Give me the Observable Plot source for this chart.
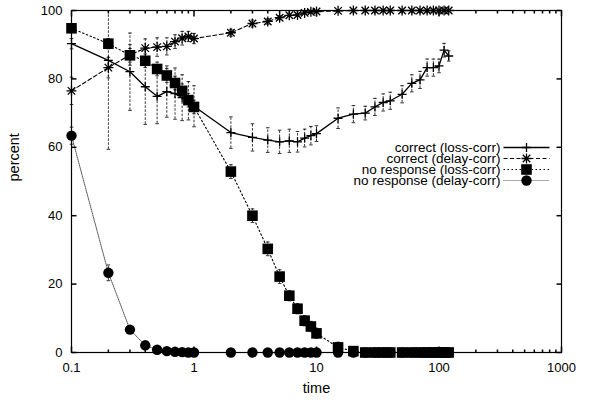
<!DOCTYPE html>
<html>
<head>
<meta charset="utf-8">
<script src="https://cdn.jsdelivr.net/npm/d3@7"></script>
<script src="https://cdn.jsdelivr.net/npm/@observablehq/plot@0.6"></script>
<style>
  html, body { margin: 0; padding: 0; background: #fff; }
  #chart { width: 589px; height: 401px; }
</style>
</head>
<body>
<div id="chart"></div>
<script>
// ---- data ----
const times = [0.1, 0.2, 0.3, 0.4, 0.5, 0.6, 0.7, 0.8, 0.9, 1,
  2, 3, 4, 5, 6, 7, 8, 9, 10,
  15, 20, 25, 30, 35, 40, 50, 60, 70, 80, 90, 100, 110, 120];

const correctLoss = [90.3, 85.4, 82.1, 77.7, 74.9, 76.3, 75.7, 74.5, 73.6, 72.0,
  64.3, 62.9, 62.1, 61.6, 61.9, 61.6, 62.7, 63.4, 64.0,
  68.5, 69.7, 70.0, 71.8, 73.1, 73.6, 75.5, 78.7, 79.7, 83.3, 83.3, 83.8, 88.4, 86.7];
const correctLossErr = [1.5, 26, 11.3, 11, 8, 7.5, 7.5, 6.7, 5.6, 6,
  4.6, 4, 3.6, 3.4, 3.4, 3, 2.6, 2.7, 2.3,
  3, 2.5, 2, 2.5, 2.5, 2.5, 2.5, 2.5, 2.5, 2.5, 2.5, 2, 2, 1.5];

const correctDelay = [76.5, 83.3, 87.0, 89.0, 89.3, 89.5, 90.9, 91.9, 92.4, 91.8,
  93.5, 96.2, 96.8, 97.9, 98.6, 98.7, 99.3, 99.6, 99.7,
  99.9, 100, 100, 100, 100, 100, 100, 100, 100, 100, 100, 100, 100, 100];
const correctDelayErr = [4, 3, 3, 2.7, 2.7, 2.5, 2, 2, 1.5, 1.5,
  1, 1, 0.8, 0.6, 0.3, 0.3, 0.3, 0.3, 0.3,
  0, 0, 0, 0, 0, 0, 0, 0, 0, 0, 0, 0, 0, 0];

const noRespLoss = [94.8, 90.3, 86.9, 85.3, 82.9, 81.0, 78.8, 76.5, 73.8, 71.8,
  52.9, 40.0, 30.3, 22.2, 16.6, 12.8, 9.3, 7.6, 5.6,
  1.5, 0.4, 0, 0, 0, 0, 0, 0, 0, 0, 0, 0, 0, 0];
const noRespLossErr = [1, 1.5, 2, 2, 2, 2, 2, 2, 2, 2,
  2, 2, 2, 2, 1.5, 1.5, 1.5, 1.5, 1.5,
  1.5, 0.5, 0, 0, 0, 0, 0, 0, 0, 0, 0, 0, 0, 0];

const noRespDelay = [63.4, 23.3, 6.7, 2.1, 0.8, 0.4, 0.2, 0.1, 0, 0,
  0, 0, 0, 0, 0, 0, 0, 0, 0,
  0, 0, 0, 0, 0, 0, 0, 0, 0, 0, 0, 0, 0, 0];
const noRespDelayErr = [2.5, 2.3, 0.8, 0, 0, 0, 0, 0, 0, 0,
  0, 0, 0, 0, 0, 0, 0, 0, 0,
  0, 0, 0, 0, 0, 0, 0, 0, 0, 0, 0, 0, 0, 0];

const seriesNames = ["correct (loss-corr)", "correct (delay-corr)", "no response (loss-corr)", "no response (delay-corr)"];
const xTicks = [0.1, 1, 10, 100, 1000];
const xTickLabels = ["0.1", "1", "10", "100", "1000"];
const yTicks = [0, 20, 40, 60, 80, 100];
const xMinorMultipliers = [2, 3, 4, 5, 6, 7, 8, 9];

// ---- helpers ----
const seg = (dx, dy) => ({draw(ctx) { ctx.moveTo(0, 0); ctx.lineTo(dx, dy); }});
const hline = (h) => ({draw(ctx) { ctx.moveTo(-h, 0); ctx.lineTo(h, 0); }});
const plusSym = (h) => ({draw(ctx) { ctx.moveTo(-h, 0); ctx.lineTo(h, 0); ctx.moveTo(0, -h); ctx.lineTo(0, h); }});
const starSym = (h) => ({draw(ctx) {
  const d = h * 0.75;
  ctx.moveTo(-h, 0); ctx.lineTo(h, 0); ctx.moveTo(0, -h); ctx.lineTo(0, h);
  ctx.moveTo(-d, -d); ctx.lineTo(d, d); ctx.moveTo(-d, d); ctx.lineTo(d, -d);
}});
const squareSym = (h) => ({draw(ctx) { ctx.rect(-h, -h, 2 * h, 2 * h); }});
const circleSym = (r) => ({draw(ctx) { ctx.moveTo(r, 0); ctx.arc(0, 0, r, 0, 2 * Math.PI); }});

const build = (ys, es) => times.map((x, i) => ({x, y: ys[i], e: es[i]}));
const series = [
  {data: build(correctLoss, correctLossErr), dash: null, lineColor: "black", lineWidth: 1.3, sym: plusSym(4.5), filled: false},
  {data: build(correctDelay, correctDelayErr), dash: "4,2.5", lineColor: "black", lineWidth: 1.1, sym: starSym(5), filled: false},
  {data: build(noRespLoss, noRespLossErr), dash: "1.5,2.5", lineColor: "black", lineWidth: 1.1, sym: squareSym(5.3), filled: true},
  {data: build(noRespDelay, noRespDelayErr), dash: "1,1", lineColor: "#555", lineWidth: 1, sym: circleSym(5.2), filled: true}
];

const xMinor = xTicks.slice(0, -1).flatMap(d => xMinorMultipliers.map(m => d * m));
const font = "'Liberation Sans', Arial, Helvetica, sans-serif";

const marks = [];
// lines, error bars, points
series.forEach((s, i) => {
  marks.push(Plot.line(s.data, {x: "x", y: "y", stroke: s.lineColor, strokeWidth: s.lineWidth, strokeDasharray: s.dash}));
  const eb = s.data.filter(d => d.e > 0);
  marks.push(Plot.ruleX(eb, {x: "x", y1: d => Math.max(0, d.y - d.e), y2: d => Math.min(100, d.y + d.e), stroke: "black", strokeWidth: 0.8, strokeDasharray: "2.5,1.5"}));
  marks.push(Plot.dot(eb.filter(d => d.y + d.e <= 100), {x: "x", y: d => d.y + d.e, r: 1, symbol: hline(1.8), fill: "none", stroke: "black", strokeWidth: 0.8}));
  marks.push(Plot.dot(eb.filter(d => d.y - d.e >= 0), {x: "x", y: d => d.y - d.e, r: 1, symbol: hline(1.8), fill: "none", stroke: "black", strokeWidth: 0.8}));
  marks.push(Plot.dot(s.data, {x: "x", y: "y", r: 1, symbol: s.sym,
    fill: s.filled ? "black" : "none", stroke: s.filled ? "none" : "black", strokeWidth: 1.3}));
});

// frame and inward ticks
marks.push(Plot.frame({stroke: "black", strokeWidth: 1.2}));
marks.push(Plot.dot(xTicks, {x: d => d, y: () => 0, r: 1, symbol: seg(0, -6), fill: "none", stroke: "black"}));
marks.push(Plot.dot(xTicks, {x: d => d, y: () => 100, r: 1, symbol: seg(0, 6), fill: "none", stroke: "black"}));
marks.push(Plot.dot(xMinor, {x: d => d, y: () => 0, r: 1, symbol: seg(0, -3), fill: "none", stroke: "black"}));
marks.push(Plot.dot(xMinor, {x: d => d, y: () => 100, r: 1, symbol: seg(0, 3), fill: "none", stroke: "black"}));
marks.push(Plot.dot(yTicks, {x: () => 0.1, y: d => d, r: 1, symbol: seg(5, 0), fill: "none", stroke: "black"}));
marks.push(Plot.dot(yTicks, {x: () => 1000, y: d => d, r: 1, symbol: seg(-5, 0), fill: "none", stroke: "black"}));

// axis titles
marks.push(Plot.text(["time"], {text: d => d, frameAnchor: "bottom", dy: 36, lineAnchor: "middle", fill: "black", fontSize: 14.5, fontFamily: font}));
marks.push(Plot.text(["percent"], {text: d => d, frameAnchor: "left", dx: -57, rotate: -90, lineAnchor: "middle", fill: "black", fontSize: 14.5, fontFamily: font}));

// legend
series.forEach((s, i) => {
  const dy = 137 + 11 * i;
  marks.push(Plot.text([seriesNames[i]], {text: d => d, frameAnchor: "top-right", dx: -61, dy, textAnchor: "end", lineAnchor: "middle", fill: "black", fontSize: 13.5, fontFamily: font}));
  marks.push(Plot.dot([0], {frameAnchor: "top-right", dx: -35, dy, r: 1, symbol: hline(23), fill: "none", stroke: s.lineColor, strokeWidth: s.lineWidth, strokeDasharray: s.dash}));
  marks.push(Plot.dot([0], {frameAnchor: "top-right", dx: -35, dy, r: 1, symbol: s.sym,
    fill: s.filled ? "black" : "none", stroke: s.filled ? "none" : "black", strokeWidth: 1.3}));
});

const chart = Plot.plot({
  width: 589,
  height: 401,
  marginLeft: 71,
  marginRight: 28,
  marginTop: 10,
  marginBottom: 49,
  style: {fontSize: "13px", fontFamily: font, color: "black", background: "white"},
  x: {type: "log", domain: [0.1, 1000], ticks: xTicks, tickFormat: (d) => xTickLabels[xTicks.indexOf(d)], tickSize: 0, tickPadding: 10, label: null},
  y: {domain: [0, 100], ticks: yTicks, tickSize: 0, tickPadding: 9, label: null},
  marks
});
document.getElementById("chart").appendChild(chart);
</script>
</body>
</html>
